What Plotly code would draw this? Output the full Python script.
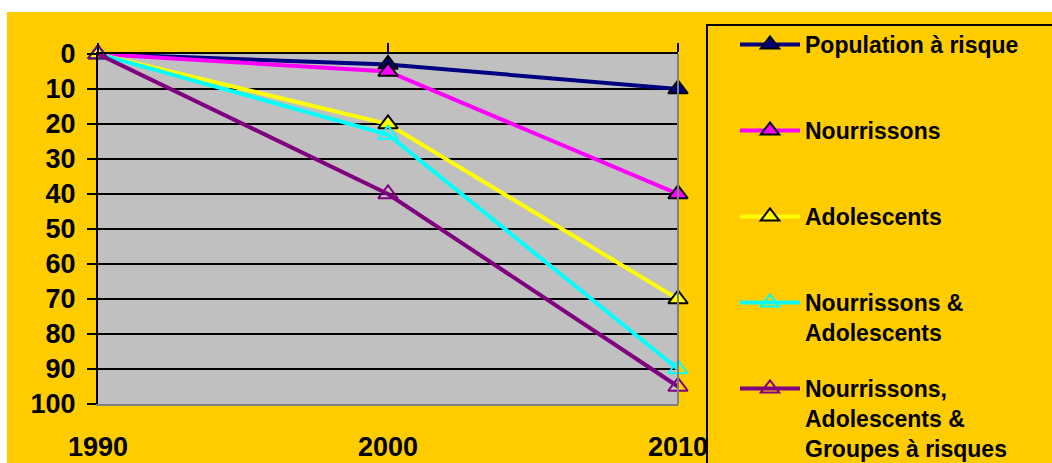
import plotly.graph_objects as go

# Years on the horizontal axis
years = [1990, 2000, 2010]

# Series values (percent) per year
population_risque = [0, 3, 10]
nourrissons = [0, 5, 40]
adolescents = [0, 20, 70]
nourrissons_adolescents = [0, 23, 90]
nourrissons_adolescents_groupes = [0, 40, 95]

series_names = [
    "Population à risque",
    "Nourrissons",
    "Adolescents",
    "Nourrissons &<br>Adolescents",
    "Nourrissons,<br>Adolescents &<br>Groupes à risques",
]
series_values = [
    population_risque,
    nourrissons,
    adolescents,
    nourrissons_adolescents,
    nourrissons_adolescents_groupes,
]
line_colors = ["#000080", "#FF00FF", "#FFFF00", "#00FFFF", "#800080"]
marker_symbols = ["triangle-up", "triangle-up", "triangle-up",
                  "triangle-up-open", "triangle-up-open"]
marker_edges = ["#000000", "#000000", "#000000", "#00FFFF", "#800080"]
legend_slots = ["legend", "legend", "legend", "legend2", "legend2"]

y_ticks = list(range(0, 101, 10))

W, H = 1052, 463
L, R, T, B = 98, 374, 54, 59
PW, PH = W - L - R, H - T - B


def px_x(p):
    return (p - L) / PW


def px_y(p):
    return (H - B - p) / PH


FONT = "Liberation Sans, Arial, sans-serif"
LEG_SIZE = 23
LINE_H = LEG_SIZE * 1.3
ENTRY_STEP = 86
GAP = ENTRY_STEP - (2 * LINE_H + 3)

fig = go.Figure()

for name, vals, col, sym, edge, slot in zip(series_names, series_values, line_colors,
                                            marker_symbols, marker_edges, legend_slots):
    # single-line entries get a blank second line so entries step evenly
    label = name if "<br>" in name else name + "<br> "
    fig.add_trace(go.Scatter(
        x=years, y=vals, name=label, mode="lines+markers",
        line=dict(color=col, width=4),
        marker=dict(symbol=sym, size=17, color=col,
                    line=dict(color=edge, width=2)),
        cliponaxis=False,
        legendgroup=name,
        legend=slot,
    ))

# carrier for the top axis (ticks along the zero line)
fig.add_trace(go.Scatter(x=years, y=[None] * len(years), xaxis="x2",
                         mode="lines", showlegend=False, hoverinfo="skip"))

shapes = [
    # white strip along the top and left edges
    dict(type="rect", xref="paper", yref="paper", layer="below",
         x0=px_x(-5), x1=px_x(W + 5), y0=px_y(12), y1=px_y(-5),
         fillcolor="white", line=dict(width=0)),
    dict(type="rect", xref="paper", yref="paper", layer="below",
         x0=px_x(-5), x1=px_x(7), y0=px_y(H + 5), y1=px_y(-5),
         fillcolor="white", line=dict(width=0)),
    # gray right edge of the plot area
    dict(type="line", xref="paper", yref="paper",
         x0=1, x1=1, y0=0, y1=1, line=dict(color="#808080", width=2)),
    # legend frame
    dict(type="rect", xref="paper", yref="paper",
         x0=px_x(707), x1=px_x(W + 20), y0=px_y(H + 20), y1=px_y(25),
         line=dict(color="black", width=2), fillcolor="rgba(0,0,0,0)"),
]

legend_common = dict(
    xanchor="left",
    bgcolor="rgba(0,0,0,0)", borderwidth=0,
    font=dict(family=FONT, size=LEG_SIZE, color="black", weight="bold"),
    valign="top", tracegroupgap=GAP, itemwidth=60,
)

fig.update_layout(
    width=W, height=H,
    margin=dict(l=L, r=R, t=T, b=B, pad=0, autoexpand=False),
    paper_bgcolor="#FFCC00",
    plot_bgcolor="#C0C0C0",
    font=dict(family=FONT, color="black", weight="bold"),
    showlegend=True,
    # anchored by its bottom so it keeps the full plot-height limit
    legend=dict(x=px_x(735), y=px_y(268), yanchor="bottom", **legend_common),
    legend2=dict(x=px_x(735), y=px_y(23 + 3 * ENTRY_STEP), yanchor="top",
                 **legend_common),
    shapes=shapes,
    xaxis=dict(
        range=[years[0], years[-1]], tickvals=years, ticktext=[str(y) for y in years],
        showgrid=False, zeroline=False, ticks="", automargin=False,
        showline=True, linecolor="#808080", linewidth=2,
        tickfont=dict(family=FONT, size=27, color="black", weight="bold"),
        ticklabelstandoff=18,
    ),
    xaxis2=dict(
        range=[years[0], years[-1]], tickvals=years, overlaying="x", side="top",
        anchor="y", showgrid=False, zeroline=False, showticklabels=False,
        ticks="outside", ticklen=9, tickwidth=2, tickcolor="black",
        showline=True, linecolor="black", linewidth=2, automargin=False,
    ),
    yaxis=dict(
        range=[100, 0], tickvals=y_ticks, automargin=False,
        showgrid=True, gridcolor="black", gridwidth=2, zeroline=False,
        ticks="outside", ticklen=9, tickwidth=2, tickcolor="black",
        showline=True, linecolor="black", linewidth=2,
        tickfont=dict(family=FONT, size=27, color="black", weight="bold"),
        ticklabelstandoff=6,
    ),
)

fig.write_html("out.html")
